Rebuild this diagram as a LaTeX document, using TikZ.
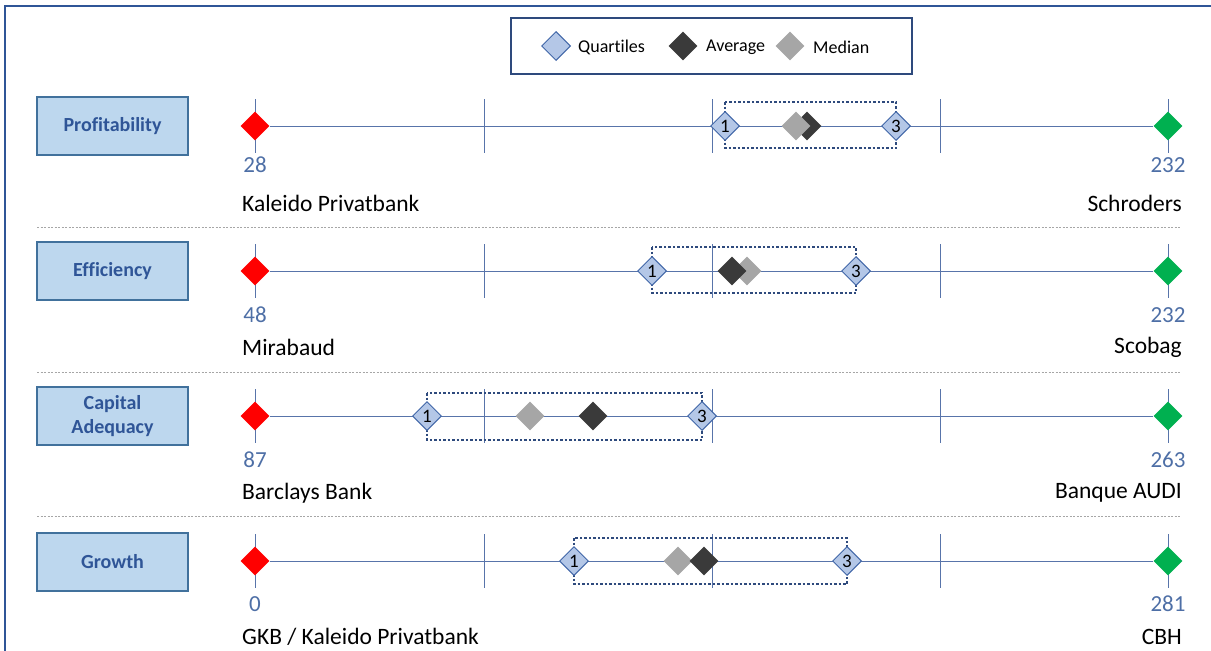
\documentclass[tikz,border=0pt]{standalone}
\usepackage{fontspec}
\setmainfont{Carlito}[Ligatures=NoCommon]
\usetikzlibrary{shapes.geometric}
\definecolor{axisblue}{HTML}{5874AA}
\definecolor{numblue}{HTML}{4E6FA6}
\definecolor{framblue}{HTML}{2F5597}
\definecolor{catfill}{HTML}{BDD7EE}
\definecolor{catedge}{HTML}{41719C}
\definecolor{cattext}{HTML}{2F5597}
\definecolor{qfill}{HTML}{B4C7E7}
\definecolor{qedge}{HTML}{4267A8}
\definecolor{boxdot}{HTML}{2E4A7D}
\definecolor{avgcol}{HTML}{3A3A3A}
\definecolor{medcol}{HTML}{A6A6A6}
\definecolor{mingreen}{HTML}{00B050}
\definecolor{sepgray}{HTML}{A6A6A6}
\begin{document}
\begin{tikzpicture}[x=1pt,y=-1pt,
  dia/.style={diamond, aspect=1, minimum width=29pt, minimum height=29pt, inner sep=0pt},
  lowdia/.style={dia, fill=red},
  highdia/.style={dia, fill=mingreen},
  avgdia/.style={dia, fill=avgcol},
  meddia/.style={dia, fill=medcol},
  qdia/.style={diamond, aspect=1, minimum width=29pt, minimum height=29pt, inner sep=0pt,
    fill=qfill, draw=qedge, line width=1pt, font=\fontsize{19}{19}\selectfont},
  axisline/.style={draw=axisblue, line width=1pt},
  tick/.style={draw=axisblue, line width=1pt},
  catbox/.style={draw=catedge, line width=1.2pt, fill=catfill, minimum width=151pt,
    minimum height=58pt, align=center, text=cattext,
    font=\fontsize{20}{24}\selectfont\bfseries},
  numlab/.style={text=numblue, font=\fontsize{23}{23}\selectfont},
  namelab/.style={text=black, inner sep=0pt, font=\fontsize{23.5}{23.5}\selectfont},
  qbox/.style={draw=boxdot, line width=2.5pt, dash pattern=on 2.5pt off 2pt},
  sep/.style={draw=sepgray, line width=1pt, dash pattern=on 2pt off 1.5pt},
  legtext/.style={font=\fontsize{18}{18}\selectfont, anchor=west, inner sep=0pt}
]
\useasboundingbox (0,0) rectangle (1211,651);
% frame
\draw[framblue, line width=2pt] (5,651) -- (5,6) -- (1211,6);

% legend
\node[draw=boxdot, line width=1.5pt, minimum width=401pt, minimum height=56pt] (legend) at (711.5,46) {};
\node[qdia] (legq) at (556,46) {};
\node[legtext] (legqt) at (578,47) {Quartiles};
\node[avgdia] (lega) at (683,46) {};
\node[legtext] (legat) at (706,47) {Average};
\node[meddia] (legm) at (790,46) {};
\node[legtext] (legmt) at (813,47) {Median};

% separators
\draw[sep] (37,227) -- (1180,227);
\draw[sep] (37,372) -- (1180,372);
\draw[sep] (37,516) -- (1180,516);

% ===== Row 1: Profitability =====
\node[catbox] (cat1) at (112.5,126) {Profitability};
\foreach \xx in {255,484,712,940,1168} \draw[tick] (\xx,99) -- (\xx,153);
\node[lowdia] (lo1) at (255,126) {};
\node[highdia] (hi1) at (1168,126) {};
\draw[axisline] (lo1) -- (hi1);
\draw[qbox] (725,102) rectangle (896,148);
\node[avgdia] (av1) at (807,126) {};
\node[meddia] (md1) at (796,126) {};
\node[qdia] (qa1) at (725,126) {1};
\node[qdia] (qc1) at (896,126) {3};
\node[numlab] (nlo1) at (255,165) {28};
\node[numlab] (nhi1) at (1168,165) {232};
\node[namelab, anchor=west] (mlo1) at (242,203) {Kaleido Privatbank};
\node[namelab, anchor=east] (mhi1) at (1182,203) {Schroders};

% ===== Row 2: Efficiency =====
\node[catbox] (cat2) at (112.5,271) {Efficiency};
\foreach \xx in {255,484,712,940,1168} \draw[tick] (\xx,244) -- (\xx,298);
\node[lowdia] (lo2) at (255,271) {};
\node[highdia] (hi2) at (1168,271) {};
\draw[axisline] (lo2) -- (hi2);
\draw[qbox] (652,247) rectangle (856,293);
\node[meddia] (md2) at (747,271) {};
\node[avgdia] (av2) at (732,271) {};
\node[qdia] (qa2) at (652,271) {1};
\node[qdia] (qc2) at (856,271) {3};
\node[numlab] (nlo2) at (255,315) {48};
\node[numlab] (nhi2) at (1168,315) {232};
\node[namelab, anchor=west] (mlo2) at (242,347) {Mirabaud};
\node[namelab, anchor=east] (mhi2) at (1182,347) {Scobag};

% ===== Row 3: Capital Adequacy =====
\node[catbox] (cat3) at (112.5,416) {Capital\\Adequacy};
\foreach \xx in {255,484,712,940,1168} \draw[tick] (\xx,389) -- (\xx,443);
\node[lowdia] (lo3) at (255,416) {};
\node[highdia] (hi3) at (1168,416) {};
\draw[axisline] (lo3) -- (hi3);
\draw[qbox] (427,393) rectangle (702,440);
\node[meddia] (md3) at (530,416) {};
\node[avgdia] (av3) at (593,416) {};
\node[qdia] (qa3) at (427,416) {1};
\node[qdia] (qc3) at (702,416) {3};
\node[numlab] (nlo3) at (255,460) {87};
\node[numlab] (nhi3) at (1168,460) {263};
\node[namelab, anchor=west] (mlo3) at (242,493) {Barclays Bank};
\node[namelab, anchor=east] (mhi3) at (1182,493) {Banque AUDI};

% ===== Row 4: Growth =====
\node[catbox] (cat4) at (112.5,562) {Growth};
\foreach \xx in {255,484,712,940,1168} \draw[tick] (\xx,534) -- (\xx,588);
\node[lowdia] (lo4) at (255,561) {};
\node[highdia] (hi4) at (1168,561) {};
\draw[axisline] (lo4) -- (hi4);
\draw[qbox] (574,538) rectangle (847,584);
\node[meddia] (md4) at (678,561) {};
\node[avgdia] (av4) at (704,561) {};
\node[qdia] (qa4) at (574,561) {1};
\node[qdia] (qc4) at (847,561) {3};
\node[numlab] (nlo4) at (255,604) {0};
\node[numlab] (nhi4) at (1168,604) {281};
\node[namelab, anchor=west] (mlo4) at (242,637) {GKB / Kaleido Privatbank};
\node[namelab, anchor=east] (mhi4) at (1182,637) {CBH};
\end{tikzpicture}
\end{document}
